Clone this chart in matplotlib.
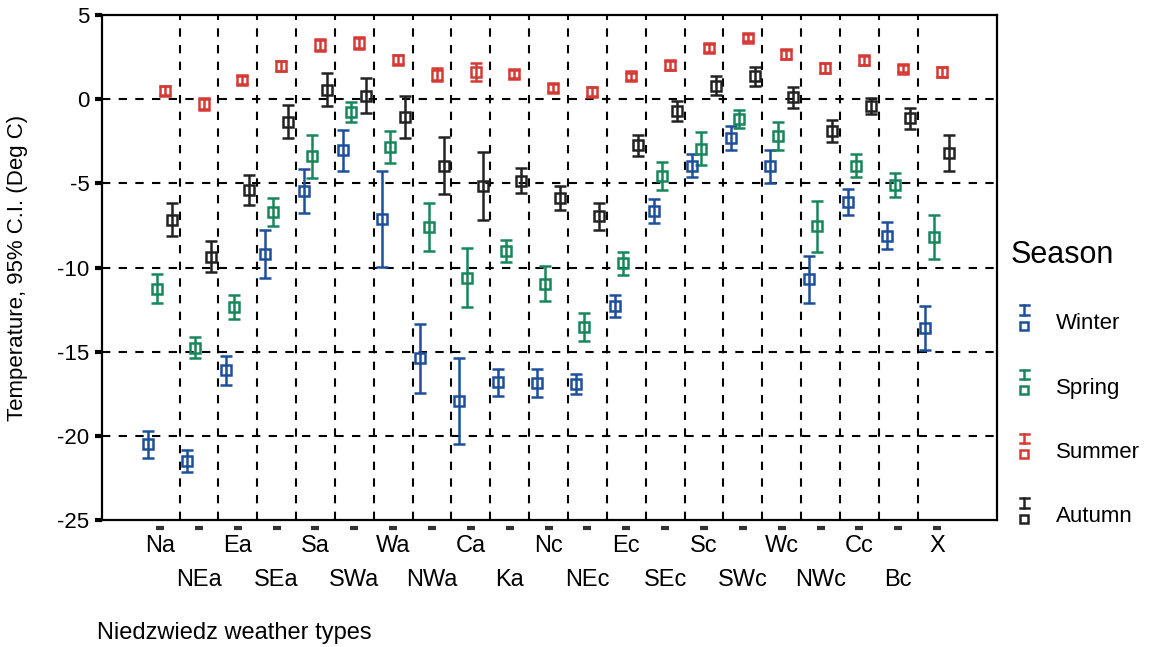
import matplotlib
matplotlib.use("Agg")
import matplotlib.pyplot as plt
from matplotlib.lines import Line2D
from matplotlib.legend_handler import HandlerBase

plt.rcParams['font.family'] = ['Liberation Sans', 'DejaVu Sans']

# weather types and seasonal means / 95% CI half widths (deg C)
tipos = ["Na", "NEa", "Ea", "SEa", "Sa", "SWa", "Wa", "NWa", "Ca", "Ka", "Nc",
         "NEc", "Ec", "SEc", "Sc", "SWc", "Wc", "NWc", "Cc", "Bc", "X"]

winter_mean = [-20.5, -21.5, -16.1, -9.2, -5.45, -3.05, -7.1, -15.4, -17.9, -16.8, -16.85,
               -16.9, -12.3, -6.66, -3.95, -2.3, -4.0, -10.7, -6.1, -8.1, -13.6]
winter_ci = [0.8, 0.65, 0.85, 1.45, 1.3, 1.2, 2.85, 2.05, 2.55, 0.8, 0.85,
             0.6, 0.65, 0.7, 0.7, 0.73, 1.0, 1.38, 0.76, 0.8, 1.3]

spring_mean = [-11.25, -14.75, -12.35, -6.7, -3.4, -0.75, -2.85, -7.6, -10.6, -9.0, -10.95,
               -13.55, -9.75, -4.55, -2.95, -1.2, -2.2, -7.55, -3.95, -5.1, -8.2]
spring_ci = [0.88, 0.62, 0.7, 0.85, 1.28, 0.6, 0.93, 1.43, 1.77, 0.66, 1.03,
             0.83, 0.7, 0.84, 0.97, 0.53, 0.85, 1.5, 0.7, 0.7, 1.3]

summer_mean = [0.5, -0.28, 1.12, 1.95, 3.2, 3.35, 2.35, 1.45, 1.6, 1.5, 0.65,
               0.45, 1.35, 2.0, 3.05, 3.65, 2.65, 1.85, 2.3, 1.8, 1.6]
summer_ci = [0.25, 0.35, 0.25, 0.3, 0.35, 0.35, 0.28, 0.38, 0.55, 0.22, 0.22,
             0.25, 0.22, 0.25, 0.25, 0.22, 0.25, 0.28, 0.25, 0.22, 0.28]

autumn_mean = [-7.15, -9.35, -5.4, -1.35, 0.55, 0.2, -1.05, -3.95, -5.15, -4.85, -5.85,
               -6.95, -2.75, -0.7, 0.8, 1.35, 0.1, -1.9, -0.4, -1.15, -3.2]
autumn_ci = [1.0, 0.92, 0.9, 0.98, 0.98, 1.05, 1.25, 1.68, 2.0, 0.74, 0.72,
             0.8, 0.6, 0.58, 0.55, 0.56, 0.6, 0.66, 0.46, 0.6, 1.07]

estaciones = ["Winter", "Spring", "Summer", "Autumn"]
medias = [winter_mean, spring_mean, summer_mean, autumn_mean]
intervalos = [winter_ci, spring_ci, summer_ci, autumn_ci]
colores = ["#1d4f9c", "#16875a", "#d63a35", "#222222"]
desplaz = [-0.3, -0.09, 0.12, 0.3]


class CapSquare(HandlerBase):
    # simbolo de leyenda: barra "I" arriba y cuadrado abajo
    def create_artists(self, legend, orig_handle, xdescent, ydescent,
                       width, height, fontsize, trans):
        c = orig_handle.get_color()
        cx = width * 0.5 - xdescent
        y0 = height * 0.25 - ydescent
        sq = Line2D([cx], [y0], marker="s", ms=6, mfc="none", mec=c, mew=1.8,
                    ls="none", transform=trans)
        top = height * 1.55
        bot = height * 0.95
        w = 3.5
        v = Line2D([cx, cx], [bot, top], color=c, lw=1.8, transform=trans)
        c1 = Line2D([cx - w, cx + w], [top, top], color=c, lw=1.8, transform=trans)
        c2 = Line2D([cx - w, cx + w], [bot, bot], color=c, lw=1.8, transform=trans)
        return [sq, v, c1, c2]


fig = plt.figure(figsize=(11.57, 6.47), dpi=100)
ax = fig.add_axes([0.088, 0.196, 0.774, 0.781])

x = list(range(len(tipos)))
handles = []
for est, m, ci, col, d in zip(estaciones, medias, intervalos, colores, desplaz):
    xs = [i + d for i in x]
    ax.errorbar(xs, m, yerr=ci, fmt="s", color=col, ms=7, mfc="none", mec=col,
                mew=1.8, elinewidth=1.8, capsize=4.5, capthick=1.8, zorder=3)
    handles.append(Line2D([], [], color=col, label=est))

# rejilla punteada
for yv in [0, -5, -10, -15, -20]:
    ax.axhline(yv, color="black", ls=(0, (4, 4)), lw=1.5, zorder=1)
for i in range(len(tipos) - 1):
    ax.axvline(i + 0.5, color="black", ls=(0, (4, 4)), lw=1.5, zorder=1)

ax.set_xlim(-1.5, 21.55)
ax.set_ylim(-25, 5)
ax.set_yticks([5, 0, -5, -10, -15, -20, -25])
ax.set_yticklabels(["5", "0", "-5", "-10", "-15", "-20", "-25"], fontsize=16)
ax.tick_params(axis="y", length=5, width=3, direction="out", pad=4)

# etiquetas en dos filas: pares arriba (major), impares abajo (minor)
ax.set_xticks(x[0::2])
ax.set_xticklabels(tipos[0::2], fontsize=17)
ax.set_xticks(x[1::2], minor=True)
ax.set_xticklabels(tipos[1::2], minor=True, fontsize=17)
ax.tick_params(axis="x", which="major", length=0, pad=11)
ax.tick_params(axis="x", which="minor", length=0, pad=35)

# pequeñas marcas bajo el eje
ax.plot(x, [-0.015] * len(x), ls="none", marker="_", ms=6, mew=3, color="#333333",
        transform=ax.get_xaxis_transform(), clip_on=False)

for s in ax.spines.values():
    s.set_linewidth(1.6)

ax.set_ylabel("Temperature, 95% C.I. (Deg C)", fontsize=16)
ax.yaxis.set_label_coords(-0.082, 0.5)
fig.text(0.084, 1 - 633 / 647, "Niedzwiedz weather types", fontsize=17, va="center")

leg = ax.legend(handles=handles, handler_map={Line2D: CapSquare()},
                title="Season", title_fontsize=22, fontsize=16, frameon=False,
                loc="upper left", bbox_to_anchor=(0.998, 0.585), labelspacing=1.95,
                handlelength=1.2, handletextpad=0.8, borderaxespad=0.3)
leg._legend_box.align = "left"

fig.savefig("out.png", dpi=100)
